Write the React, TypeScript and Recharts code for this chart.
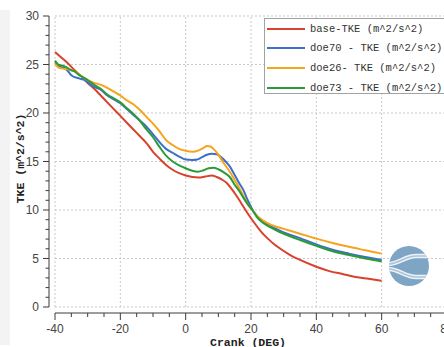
import { LineChart, Line, XAxis, YAxis, ReferenceLine, Legend } from "recharts";

// crank angle (DEG) / TKE (m^2/s^2)
const baseCrank = [-40, -38, -36, -34, -32, -30, -28, -26, -24, -22, -20, -18, -16, -14, -12, -10, -8, -6, -4, -2, 0, 2, 4, 6, 8, 9.5, 11, 12.5, 14, 15.5, 17, 18.5, 20, 21.5, 23, 25, 27, 29, 32, 35, 40, 44, 48, 52, 56, 60];
const baseTke = [26.3, 25.7, 25.1, 24.4, 23.8, 23.1, 22.5, 21.8, 21.1, 20.4, 19.7, 19.0, 18.3, 17.6, 16.9, 16.0, 15.3, 14.65, 14.15, 13.8, 13.55, 13.4, 13.35, 13.45, 13.55, 13.4, 13.15, 12.8, 12.2, 11.5, 10.7, 9.9, 9.15, 8.45, 7.8, 7.1, 6.5, 6.0, 5.35, 4.85, 4.15, 3.7, 3.4, 3.1, 2.9, 2.7];

const doe70Crank = [-40, -39, -38, -37, -36, -35, -34, -33, -32, -31, -30, -29, -28, -26, -24, -22, -20, -18, -16, -14, -12, -10, -8, -6, -4, -2, 0, 2, 3.5, 5, 6.5, 8, 9.5, 11, 12.5, 13.5, 15, 16.5, 17.6, 19, 20.5, 22, 24, 26, 28, 30, 35, 40, 45, 50, 55, 60];
const doe70Tke = [25.2, 24.9, 24.7, 24.6, 24.3, 23.9, 23.7, 23.6, 23.5, 23.4, 23.2, 22.9, 22.7, 22.4, 21.8, 21.4, 21.0, 20.4, 19.8, 19.2, 18.6, 17.8, 17.0, 16.3, 15.9, 15.5, 15.2, 15.15, 15.2, 15.45, 15.7, 15.8, 15.75, 15.4, 14.9, 14.5, 13.6, 12.7, 12.1, 11.0, 10.0, 9.3, 8.7, 8.3, 8.0, 7.7, 7.1, 6.45, 5.9, 5.5, 5.15, 4.85];

const doe26Crank = [-40, -39, -38, -36, -34, -32, -30, -28, -26, -24, -22, -20, -18, -16, -14, -12, -10, -8, -6, -4, -2, 0, 2, 4, 5.5, 6.5, 7.5, 8.5, 10, 11.5, 13.5, 15.5, 17.6, 19, 20.5, 22, 24, 26, 28, 30, 35, 40, 45, 50, 55, 60];
const doe26Tke = [25.1, 24.7, 24.6, 24.5, 24.3, 23.8, 23.4, 23.1, 22.9, 22.6, 22.2, 21.8, 21.3, 20.9, 20.3, 19.6, 18.9, 18.1, 17.2, 16.7, 16.3, 16.1, 16.0, 16.15, 16.4, 16.6, 16.55, 16.3, 15.7, 14.9, 13.95, 12.8, 11.5, 10.6, 9.95, 9.35, 8.85, 8.5, 8.25, 8.05, 7.55, 7.05, 6.6, 6.2, 5.85, 5.5];

const doe73Crank = [-40, -39, -38, -37, -36, -35, -34, -33, -32, -31, -30, -28, -26, -24, -22, -20, -18, -16, -14, -12, -10, -8, -6, -4, -2, 0, 2, 3.8, 5.5, 7, 8.5, 10, 12, 13.5, 15, 16.5, 17.6, 19, 20.5, 22, 24, 26, 28, 30, 35, 40, 45, 50, 55, 60];
const doe73Tke = [25.4, 25.0, 24.9, 24.8, 24.6, 24.4, 24.3, 24.0, 23.8, 23.6, 23.4, 22.9, 22.5, 21.9, 21.5, 21.1, 20.5, 19.9, 19.2, 18.3, 17.5, 16.5, 15.6, 15.0, 14.6, 14.3, 14.05, 13.95, 14.1, 14.3, 14.35, 14.2, 13.8, 13.4, 12.6, 11.9, 11.3, 10.6, 9.95, 9.2, 8.6, 8.2, 7.85, 7.55, 6.9, 6.3, 5.75, 5.35, 5.0, 4.7];

const seriesNames = ["base-TKE (m^2/s^2)", "doe70 - TKE (m^2/s^2)", "doe26- TKE (m^2/s^2)", "doe73 - TKE (m^2/s^2)"];
const seriesColors = ["#d8412b", "#3d6fc8", "#f5a41c", "#2b9a38"];

const xTicks = [-40, -35, -30, -25, -20, -15, -10, -5, 0, 5, 10, 15, 20, 25, 30, 35, 40, 45, 50, 55, 60, 65, 70, 75, 80];
const xLabels = [-40, -20, 0, 20, 40, 60, 80];
const yTicks = [0, 1, 2, 3, 4, 5, 6, 7, 8, 9, 10, 11, 12, 13, 14, 15, 16, 17, 18, 19, 20, 21, 22, 23, 24, 25, 26, 27, 28, 29, 30];
const yLabels = [0, 5, 10, 15, 20, 25, 30];

const X_MIN = -41.84;
const Y_MIN = -0.62;

const pairs = (xs: number[], ys: number[]) => xs.map((x, i) => ({ x, y: ys[i] }));
const series = [
  { name: seriesNames[0], color: seriesColors[0], data: pairs(baseCrank, baseTke) },
  { name: seriesNames[1], color: seriesColors[1], data: pairs(doe70Crank, doe70Tke) },
  { name: seriesNames[2], color: seriesColors[2], data: pairs(doe26Crank, doe26Tke) },
  { name: seriesNames[3], color: seriesColors[3], data: pairs(doe73Crank, doe73Tke) },
];

const axisColor = "#3a3a3a";
const tickFont = "'Liberation Sans', Arial, sans-serif";
const monoFont = "'Liberation Mono', 'DejaVu Sans Mono', monospace";

function XTick({ x, y, payload }: any) {
  const major = xLabels.includes(payload.value);
  return (
    <g>
      <line x1={x} x2={x} y1={y} y2={y + (major ? 7 : 4)} stroke={axisColor} />
      {major && (
        <text x={x} y={y + 20} textAnchor="middle" fontSize={12} fill="#444" fontFamily={tickFont}>
          {payload.value}
        </text>
      )}
    </g>
  );
}

function YTick({ x, y, payload }: any) {
  const major = yLabels.includes(payload.value);
  return (
    <g>
      <line x1={x} x2={x - (major ? 6 : 3.5)} y1={y} y2={y} stroke={axisColor} />
      {major && (
        <text x={x - 10} y={y + 4.3} textAnchor="end" fontSize={12} fill="#444" fontFamily={tickFont}>
          {payload.value}
        </text>
      )}
    </g>
  );
}

function YTitle({ viewBox }: any) {
  const cx = 20;
  const cy = viewBox.y + viewBox.height / 2 - 6;
  return (
    <text x={cx} y={cy} transform={`rotate(-90 ${cx} ${cy})`} textAnchor="middle" dominantBaseline="central"
      fontSize={11.5} fontWeight="bold" fill="#222" fontFamily={monoFont}>
      TKE (m^2/s^2)
    </text>
  );
}

function LegendBox() {
  return (
    <div style={{ border: "1px solid #a2a2a2", background: "#fff", height: 76, boxSizing: "border-box", paddingLeft: 2 }}>
      {series.map((s) => (
        <div key={s.name} style={{ display: "flex", alignItems: "center", height: 19.6 }}>
          <div style={{ width: 38, height: 2, background: s.color }} />
          <span style={{ marginLeft: 5, fontFamily: monoFont, fontSize: 10.5, color: "#333", whiteSpace: "pre" }}>{s.name}</span>
        </div>
      ))}
    </div>
  );
}

export default function App() {
  return (
    <div style={{ position: "absolute", left: 0, top: 0, width: 444, height: 347, overflow: "hidden", background: "#fff" }}>
      <div style={{ position: "absolute", left: 0, top: 10, width: 10, height: 335, background: "#f3f3f3" }} />
      <LineChart width={460} height={347} margin={{ top: 16, right: 13, left: 0, bottom: 0 }}>
        <XAxis type="number" dataKey="x" domain={[X_MIN, 80]} ticks={xTicks} interval={0} allowDataOverflow
          axisLine={false} tickLine={false} tickSize={0} tickMargin={0} height={34} tick={<XTick />}
          label={{ value: "Crank (DEG)", position: "insideBottom", offset: 1, fontSize: 11.5, fontWeight: "bold", fill: "#222", fontFamily: monoFont }} />
        <YAxis type="number" dataKey="y" domain={[Y_MIN, 30]} ticks={yTicks} interval={0} allowDataOverflow
          axisLine={false} tickLine={false} tickSize={0} tickMargin={0} width={49} tick={<YTick />}
          label={{ content: <YTitle /> }} />
        {yLabels.map((v) => (
          <ReferenceLine key={"h" + v} segment={[{ x: -40, y: v }, { x: 80, y: v }]} stroke="#c9c9c9" strokeDasharray="2 2" ifOverflow="visible" />
        ))}
        {xLabels.map((v) => (
          <ReferenceLine key={"v" + v} segment={[{ x: v, y: 0 }, { x: v, y: 30 }]} stroke="#c9c9c9" strokeDasharray="2 2" ifOverflow="visible" />
        ))}
        <ReferenceLine segment={[{ x: -40, y: Y_MIN }, { x: 80, y: Y_MIN }]} stroke={axisColor} ifOverflow="visible" />
        <ReferenceLine segment={[{ x: X_MIN, y: 0 }, { x: X_MIN, y: 30 }]} stroke={axisColor} ifOverflow="visible" />
        {series.map((s) => (
          <Line key={s.name} data={s.data} dataKey="y" name={s.name} type="monotone" stroke={s.color}
            strokeWidth={2} dot={false} isAnimationActive={false} />
        ))}
        <Legend layout="vertical" align="center" verticalAlign="middle" content={<LegendBox />}
          wrapperStyle={{ left: 264, top: 18, width: 200, height: 76 }} />
      </LineChart>
      <svg width={444} height={347} style={{ position: "absolute", left: 0, top: 0, pointerEvents: "none" }}>
        <defs>
          <clipPath id="logoClip">
            <circle cx={409} cy={266} r={20} />
          </clipPath>
        </defs>
        <circle cx={409} cy={266} r={20} fill="#7fa5c5" />
        <g clipPath="url(#logoClip)" fill="none">
          <path d="M388,264 C399,264 405,256 416,256 L432,256" stroke="#fff" strokeWidth={4.5} opacity={0.85} />
          <path d="M388,264 C399,264 405,256 416,256 L432,256" stroke="#a9c3d9" strokeWidth={1.5} />
          <path d="M388,269 C399,269 405,277 416,277 L432,277" stroke="#fff" strokeWidth={4.5} opacity={0.85} />
          <path d="M388,269 C399,269 405,277 416,277 L432,277" stroke="#a9c3d9" strokeWidth={1.5} />
        </g>
      </svg>
    </div>
  );
}
